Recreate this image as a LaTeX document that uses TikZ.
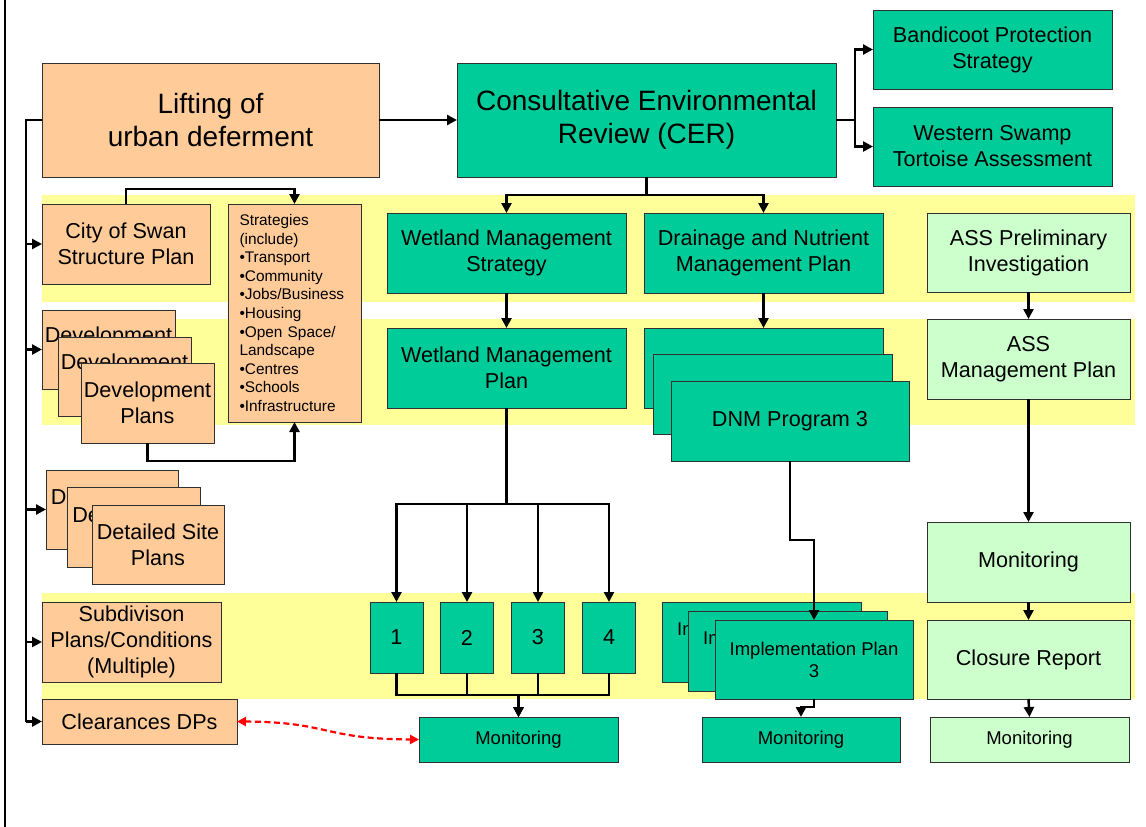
\documentclass[tikz,border=0pt]{standalone}
\usepackage{fontspec}
\setmainfont{Liberation Sans}
\usetikzlibrary{arrows.meta}
\definecolor{peach}{HTML}{FFCC99}
\definecolor{tealg}{HTML}{00CC99}
\definecolor{lgreen}{HTML}{CCFFCC}
\definecolor{bandy}{HTML}{FFFF99}
\definecolor{edgec}{HTML}{303030}
\newcommand\fbig{\fontsize{28}{33}\selectfont}
\newcommand\fmed{\fontsize{21.6}{26}\selectfont}
\newcommand\fsml{\fontsize{15.4}{18.6}\selectfont}
\newcommand\fmon{\fontsize{18.5}{22}\selectfont}
\tikzset{
  box/.style={draw=edgec, line width=1pt, inner sep=0pt, outer sep=0pt, align=center, font=\fmed},
  pbox/.style={box, fill=peach},
  gbox/.style={box, fill=tealg},
  lbox/.style={box, fill=lgreen},
  peek/.style={inner sep=0pt, font=\fmed},
  conn/.style={line width=2.5pt, -{Triangle[length=10pt,width=10pt]}},
  plain/.style={line width=2.5pt},
  band/.style={fill=bandy, draw=none},
}
\begin{document}
\begin{tikzpicture}[x=1pt,y=-1pt]
\useasboundingbox (0,0) rectangle (1146,827);
\fill[white] (0,0) rectangle (1146,827);
% slide edge
\draw[line width=1.3pt] (5,0) -- (5,827);
% yellow bands
\fill[band] (42,195) rectangle (1135,302);
\fill[band] (42,319) rectangle (1135,425);
\fill[band] (42,593) rectangle (1135,699);

% top row
\node[pbox, font=\fbig, minimum width=337, minimum height=114] (lift) at (210.5,120) {Lifting of\\urban deferment};
\node[gbox, font=\fbig, minimum width=379, minimum height=114] (cer) at (646.5,120) {Consultative Environmental\\Review (CER)};
\node[gbox, minimum width=239, minimum height=79] (band) at (992.5,49.5) {Bandicoot Protection\\Strategy};
\node[gbox, minimum width=239, minimum height=79] (wst) at (992.5,146.5) {Western Swamp\\Tortoise Assessment};

% band 1
\node[pbox, minimum width=168, minimum height=80] (cos) at (126,244) {City of Swan\\Structure Plan};
\node[pbox, font=\fsml, align=left, text width=110, inner xsep=11.5pt, minimum height=218] (strat) at (294.5,313) {Strategies\\(include)\\•Transport\\•Community\\•Jobs/Business\\•Housing\\•Open Space/\\Landscape\\•Centres\\•Schools\\•Infrastructure};
\node[gbox, minimum width=239, minimum height=80] (wms) at (506.5,253) {Wetland Management\\Strategy};
\node[gbox, minimum width=239, minimum height=80] (dnmp) at (763.5,253) {Drainage and Nutrient\\Management Plan};
\node[lbox, minimum width=203, minimum height=79] (assp) at (1028.5,252.5) {ASS Preliminary\\Investigation};

% band 2
\node[pbox, minimum width=133, minimum height=79] (dev1) at (108.5,349.5) {};
\node[peek] (dev1t) at (108.5,337) {Development};
\node[pbox, minimum width=133, minimum height=79] (dev2) at (124.5,376.5) {};
\node[peek] (dev2t) at (124.5,364) {Development};
\node[pbox, minimum width=133, minimum height=80] (dev3) at (147.5,403) {Development\\Plans};
\node[gbox, minimum width=239, minimum height=80] (wmp) at (506.5,368) {Wetland Management\\Plan};
\node[gbox, minimum width=239, minimum height=80] (dnm1) at (763.5,368) {};
\node[gbox, minimum width=239, minimum height=80] (dnm2) at (772.5,394) {};
\node[gbox, minimum width=238, minimum height=80] (dnm3) at (790,421) {DNM Program 3};
\node[lbox, minimum width=203, minimum height=80] (assm) at (1028.5,359) {ASS\\Management Plan};

% middle
\node[pbox, minimum width=132, minimum height=79] (det1) at (112,509.5) {};
\node[peek] (det1t) at (112,497) {Detailed Site};
\node[pbox, minimum width=133, minimum height=80] (det2) at (133.5,527) {};
\node[peek] (det2t) at (133.5,514.5) {Detailed Site};
\node[pbox, minimum width=132, minimum height=79] (det3) at (158,544.5) {Detailed Site\\Plans};
\node[lbox, minimum width=203, minimum height=80] (asmon) at (1028.5,562) {Monitoring};

% band 3
\node[pbox, minimum width=179, minimum height=80] (sub) at (131.5,642) {Subdivison\\Plans/Conditions\\(Multiple)};
\node[gbox, minimum width=53, minimum height=71] (n1) at (396.5,637.5) {1};
\node[gbox, minimum width=53, minimum height=71] (n2) at (467,637.5) {2};
\node[gbox, minimum width=53, minimum height=71] (n3) at (538,637.5) {3};
\node[gbox, minimum width=53, minimum height=71] (n4) at (609,637.5) {4};
\node[gbox, minimum width=199, minimum height=80] (imp1) at (761.5,642) {};
\node[peek, font=\fmon] (imp1t) at (761.5,631) {Implementation Plan};
\node[gbox, minimum width=199, minimum height=80] (imp2) at (787.5,651) {};
\node[peek, font=\fmon] (imp2t) at (787.5,640) {Implementation Plan};
\node[gbox, font=\fmon, minimum width=198, minimum height=79] (imp3) at (814,659.5) {Implementation Plan\\3};
\node[lbox, minimum width=203, minimum height=79] (clos) at (1028.5,659.5) {Closure Report};

% bottom
\node[pbox, minimum width=195, minimum height=45] (clr) at (139.5,721.5) {Clearances DPs};
\node[gbox, font=\fmon, minimum width=199, minimum height=45] (mon1) at (518.5,739.5) {Monitoring};
\node[gbox, font=\fmon, minimum width=198, minimum height=45] (mon2) at (801,739.5) {Monitoring};
\node[lbox, font=\fmon, minimum width=199, minimum height=45] (mon3) at (1029.5,739.5) {Monitoring};

% connectors
\coordinate (bus) at (26,120);
\draw[plain] (lift.west) -- (bus) -- (bus |- clr.west);
\draw[conn] (bus |- cos.west) -- (cos.west);
\draw[conn] (bus |- dev1.west) -- (dev1.west);
\draw[conn] (bus |- det1.west) -- (det1.west);
\draw[conn] (bus |- sub.west) -- (sub.west);
\draw[conn] (bus |- clr.west) -- (clr.west);

\draw[conn] (lift.east) -- (cer.west);
\draw[conn] (cer.east) -- ++(19,0) |- (band.west);
\draw[conn] (cer.east) -- ++(19,0) |- (wst.west);
\draw[conn] (cer.south) -- ++(0,18) -| (wms.north);
\draw[conn] (cer.south) -- ++(0,18) -| (dnmp.north);

\draw[conn] (cos.north) -- ++(0,-15) -| (strat.north);
\draw[conn] (dev3.south) -- ++(0,18) -| (strat.south);

\draw[conn] (wms.south) -- (wmp.north);
\draw[conn] (dnmp.south) -- (dnm1.north);
\foreach \n in {n1,n2,n3,n4}{
  \draw[conn] (wmp.south) -- ++(0,96) -| (\n.north);
  \draw[conn] (\n.south) -- ++(0,22) -| (mon1.north);
}
\draw[conn] (dnm3.south) -- ++(0,79) -| (imp3.north);
\draw[conn] (imp3.south) -- ++(0,8) -| (mon2.north);

\draw[conn] (assp.south) -- (assm.north);
\draw[conn] (assm.south) -- (asmon.north);
\draw[conn] (asmon.south) -- (clos.north);
\draw[conn] (clos.south) -- (mon3.north);

\draw[red, line width=2.2pt, dash pattern=on 6pt off 3.5pt, {Triangle[length=9pt,width=9pt]}-{Triangle[length=9pt,width=9pt]}]
  (clr.east) .. controls (330,722) and (322,739) .. (mon1.west);
\end{tikzpicture}
\end{document}
